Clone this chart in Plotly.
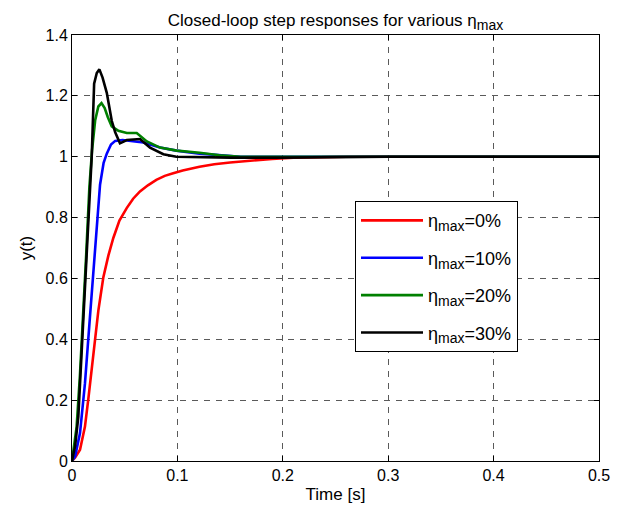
import plotly.graph_objects as go

# ---- data ----
t_red = [0, 0.003, 0.0076, 0.0123, 0.0155, 0.0203, 0.025, 0.0297, 0.0345, 0.0392, 0.045,
         0.0519, 0.058, 0.0645, 0.072, 0.080, 0.088, 0.096, 0.105, 0.121, 0.135, 0.15,
         0.17, 0.19, 0.21, 0.23, 0.26, 0.3, 0.5]
y_red = [0, 0.012, 0.037, 0.113, 0.204, 0.342, 0.494, 0.603, 0.675, 0.733, 0.79,
         0.831, 0.862, 0.886, 0.906, 0.924, 0.937, 0.946, 0.955, 0.967, 0.975, 0.981,
         0.988, 0.993, 0.997, 0.999, 1.0, 1.0, 1.0]

t_blue = [0, 0.003, 0.0076, 0.0123, 0.017, 0.0218, 0.0266, 0.030, 0.033, 0.037, 0.041,
          0.048, 0.055, 0.0677, 0.0835, 0.099, 0.121, 0.14, 0.16, 0.2, 0.5]
y_blue = [0, 0.016, 0.092, 0.255, 0.472, 0.69, 0.908, 0.98, 1.01, 1.04, 1.052,
          1.055, 1.052, 1.047, 1.03, 1.02, 1.01, 1.004, 1.0, 1.0, 1.0]

t_green = [0, 0.0044, 0.0075, 0.0107, 0.0135, 0.0165, 0.019, 0.022, 0.025, 0.028, 0.031,
           0.034, 0.0377, 0.044, 0.052, 0.0614, 0.071, 0.0835, 0.0993, 0.121, 0.14, 0.16,
           0.2, 0.5]
y_green = [0, 0.113, 0.28, 0.472, 0.68, 0.9, 1.02, 1.12, 1.165, 1.176, 1.16,
           1.13, 1.10, 1.085, 1.078, 1.078, 1.05, 1.03, 1.02, 1.013, 1.005, 1.0,
           1.0, 1.0]

t_black = [0, 0.003, 0.006, 0.0092, 0.0123, 0.0155, 0.0187, 0.021, 0.0235, 0.026, 0.029,
           0.033, 0.0377, 0.041, 0.0455, 0.052, 0.0645, 0.074, 0.0867, 0.099, 0.12, 0.15,
           0.2, 0.25, 0.3, 0.5]
y_black = [0, 0.05, 0.146, 0.364, 0.58, 0.8, 1.0, 1.24, 1.275, 1.287, 1.26,
           1.21, 1.118, 1.08, 1.044, 1.055, 1.058, 1.03, 1.008, 1.0, 0.998, 0.997,
           0.997, 0.999, 1.0, 1.0]

SUB_LEG = "<sub><span style='font-size:14px'>max</span></sub>"
SUB_TITLE = "<sub><span style='font-size:14px'>max</span></sub>"
labels = ["η" + SUB_LEG + "=0%", "η" + SUB_LEG + "=10%",
          "η" + SUB_LEG + "=20%", "η" + SUB_LEG + "=30%"]
colors = ["#ff0000", "#0000ff", "#008000", "#000000"]
series = [(t_red, y_red), (t_blue, y_blue), (t_green, y_green), (t_black, y_black)]

x_ticks = [0, 0.1, 0.2, 0.3, 0.4, 0.5]
y_ticks = [0, 0.2, 0.4, 0.6, 0.8, 1, 1.2, 1.4]

FONT = "Liberation Sans, Arial, Helvetica, sans-serif"

fig = go.Figure()
for i, ((tx, ty), lab, col) in enumerate(zip(series, labels, colors)):
    fig.add_trace(go.Scatter(x=tx, y=ty, mode="lines", name=lab,
                             line=dict(color=col, width=2.6),
                             legendgroup=f"g{i}"))

axis_common = dict(
    showline=True, linecolor="black", linewidth=1, mirror="ticks",
    ticks="inside", ticklen=5, tickcolor="black",
    showgrid=True, gridcolor="#5a5a5a", griddash="6px,6px", gridwidth=1,
    zeroline=False, tickfont=dict(size=16, color="black", family=FONT),
)

fig.update_layout(
    width=622, height=514,
    margin=dict(l=72, r=23, t=35, b=53),
    paper_bgcolor="white", plot_bgcolor="white",
    font=dict(family=FONT, color="black"),
    title=dict(text="Closed-loop step responses for various η" + SUB_TITLE,
               x=0.5, xref="paper", y=1, yref="paper", yanchor="bottom",
               pad=dict(b=9),
               font=dict(size=17, color="black", family=FONT)),
    xaxis=dict(range=[0, 0.5], tickvals=x_ticks, ticktext=[str(v) for v in x_ticks],
               title=dict(text="Time [s]", font=dict(size=17), standoff=4), **axis_common),
    yaxis=dict(range=[0, 1.4], tickvals=y_ticks, ticktext=[str(v) for v in y_ticks],
               title=dict(text="y(t)", font=dict(size=17), standoff=8), **axis_common),
    legend=dict(x=0.537, y=0.610, xanchor="left", yanchor="top",
                bgcolor="white", bordercolor="black", borderwidth=1,
                font=dict(size=18, color="black", family=FONT),
                itemwidth=62, tracegroupgap=11),
    showlegend=True,
)

fig.write_html("out.html")
